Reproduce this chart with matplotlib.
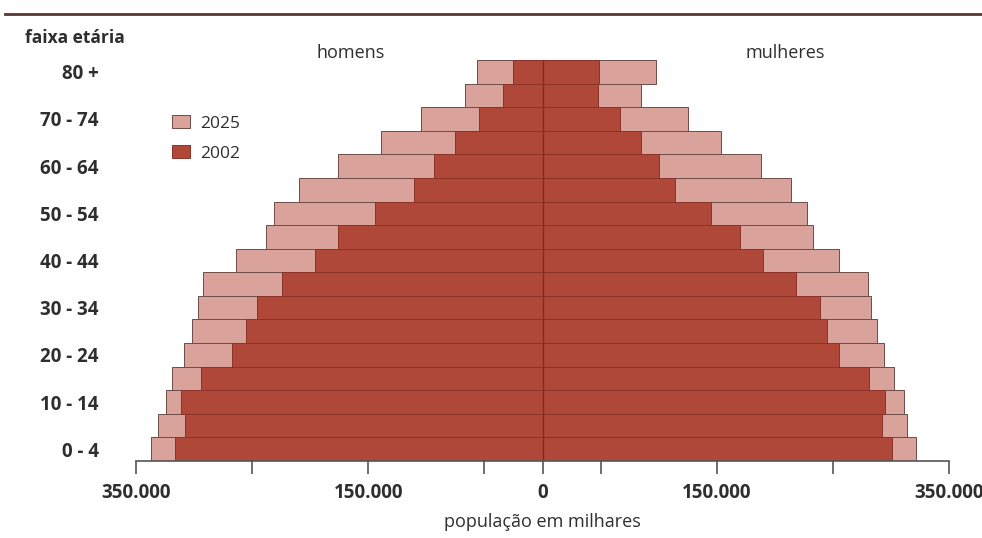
import matplotlib.pyplot as plt
import numpy as np
from matplotlib.lines import Line2D

plt.rcParams['font.family'] = ['Open Sans', 'DejaVu Sans']

# faixas etárias, da base para o topo
ages = ['0 - 4', '5 - 9', '10 - 14', '15 - 19', '20 - 24', '25 - 29', '30 - 34',
        '35 - 39', '40 - 44', '45 - 49', '50 - 54', '55 - 59', '60 - 64',
        '65 - 69', '70 - 74', '75 - 79', '80 +']

# população em milhares
homens_2002 = [316, 308, 311, 294, 267, 255, 246, 224, 196, 176, 144, 111, 93, 75, 55, 34, 25]
homens_2025 = [337, 331, 324, 319, 309, 302, 297, 292, 264, 238, 231, 210, 176, 139, 105, 67, 56]
mulheres_2002 = [301, 292, 295, 281, 255, 245, 239, 218, 190, 170, 145, 114, 100, 85, 67, 48, 49]
mulheres_2025 = [322, 314, 311, 303, 294, 288, 283, 280, 255, 233, 228, 214, 188, 154, 125, 85, 98]

tick_values = [-350000, -250000, -150000, -50000, 0, 50000, 150000, 250000, 350000]
labelled_ticks = [-350000, -150000, 0, 150000, 350000]

c2002 = '#b0483a'
c2025 = '#d9a29b'
edge = '#6e4c48'
txt = '#2e2e2e'

W, H = 982, 538
fig = plt.figure(figsize=(W / 100, H / 100), dpi=100)
ax = fig.add_axes([136 / W, 77 / H, 813 / W, 401 / H])

y = np.arange(len(ages))
k = 1000
ax.barh(y, -np.array(homens_2025) * k, height=1, color=c2025, edgecolor=edge, linewidth=0.7, label='2025')
ax.barh(y, np.array(mulheres_2025) * k, height=1, color=c2025, edgecolor=edge, linewidth=0.7)
ax.barh(y, -np.array(homens_2002) * k, height=1, color=c2002, edgecolor='#8a3328', linewidth=0.7, label='2002')
ax.barh(y, np.array(mulheres_2002) * k, height=1, color=c2002, edgecolor='#8a3328', linewidth=0.7)
ax.axvline(0, color='#7a2a22', lw=1)

ax.set_xlim(-350000, 350000)
ax.set_ylim(-0.5, len(ages) - 0.5)

for s in ['top', 'right', 'left']:
    ax.spines[s].set_visible(False)
ax.spines['bottom'].set_color('#555555')
ax.spines['bottom'].set_linewidth(1.2)

ax.set_xticks(tick_values)
ax.set_xticklabels([f"{abs(v):,}".replace(',', '.') if v in labelled_ticks else '' for v in tick_values],
                   fontsize=13.5, fontweight='bold', color=txt)
ax.tick_params(axis='x', direction='out', length=9, width=1.2, color='#555555', pad=7)

ax.set_yticks(y[::2])
ax.set_yticklabels(ages[::2], fontsize=13.5, fontweight='bold', color=txt)
ax.tick_params(axis='y', length=0, pad=27)

ax.set_xlabel('população em milhares', fontsize=13, color=txt, labelpad=7)

fig.text(25 / W, 1 - 38 / H, 'faixa etária', fontsize=12.5, fontweight='bold', color=txt,
         ha='left', va='center')
fig.text(351 / W, 1 - 53 / H, 'homens', fontsize=13, color=txt, ha='center', va='center')
fig.text(785 / W, 1 - 53 / H, 'mulheres', fontsize=13, color=txt, ha='center', va='center')

handles, labels = ax.get_legend_handles_labels()
leg = fig.legend(handles, labels, loc='upper left', bbox_to_anchor=(156 / W, 1 - 99 / H),
                 frameon=False, fontsize=12.5, handlelength=1.05, handleheight=0.85,
                 labelspacing=0.75, handletextpad=0.6)
for t in leg.get_texts():
    t.set_color(txt)

# linha superior
fig.add_artist(Line2D([5 / W, 1], [1 - 14 / H, 1 - 14 / H], transform=fig.transFigure,
                      color='#5a3732', lw=2))

fig.savefig('out.png', dpi=100)
